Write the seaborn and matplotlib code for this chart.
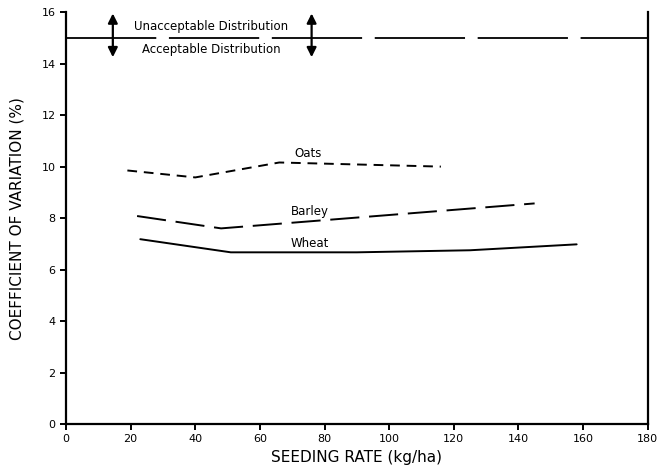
import pandas as pd
import matplotlib.pyplot as plt
import seaborn as sns

# values
oats_rate = [19, 40, 66, 116]
oats_cv = [9.85, 9.58, 10.16, 10.0]
barley_rate = [22, 48, 85, 145]
barley_cv = [8.08, 7.6, 7.97, 8.57]
wheat_rate = [23, 51, 90, 125, 158]
wheat_cv = [7.18, 6.67, 6.67, 6.75, 6.98]
threshold = 15

sns.set_style("ticks")
plt.rcParams["font.family"] = ["DejaVu Sans"]
plt.rcParams["text.color"] = "black"
plt.rcParams["axes.labelcolor"] = "black"
plt.rcParams["xtick.color"] = "black"
plt.rcParams["ytick.color"] = "black"

fig = plt.figure(figsize=(6.63, 4.68), dpi=100)
ax = fig.add_axes([0.0995, 0.094, 0.8775, 0.88])

oats = pd.DataFrame({"rate": oats_rate, "cv": oats_cv})
barley = pd.DataFrame({"rate": barley_rate, "cv": barley_cv})
wheat = pd.DataFrame({"rate": wheat_rate, "cv": wheat_cv})

sns.lineplot(data=oats, x="rate", y="cv", ax=ax, color="black", lw=1.4)
ax.lines[-1].set_dashes([5, 3.5])
sns.lineplot(data=barley, x="rate", y="cv", ax=ax, color="black", lw=1.4)
ax.lines[-1].set_dashes([15, 5])
sns.lineplot(data=wheat, x="rate", y="cv", ax=ax, color="black", lw=1.4)

# acceptability threshold
ax.axhline(threshold, color="black", lw=1.3, dashes=[50, 7])
for xa in [14.5, 76]:
    ax.annotate("", xy=(xa, 15.95), xytext=(xa, 14.25),
                arrowprops=dict(arrowstyle="<|-|>", color="black", lw=1.6,
                                mutation_scale=14, shrinkA=0, shrinkB=0))
ax.text(45, 15.45, "Unacceptable Distribution", ha="center", va="center", fontsize=8.5)
ax.text(45, 14.55, "Acceptable Distribution", ha="center", va="center", fontsize=8.5)

ax.text(75, 10.5, "Oats", ha="center", va="center", fontsize=8.5)
ax.text(75.5, 8.25, "Barley", ha="center", va="center", fontsize=8.5)
ax.text(75.5, 7.0, "Wheat", ha="center", va="center", fontsize=8.5)

ax.set_xlim(0, 180)
ax.set_ylim(0, 16)
ax.set_xticks(range(0, 181, 20))
ax.set_yticks(range(0, 17, 2))
ax.tick_params(labelsize=8, width=1.4, length=4)
ax.set_xlabel("SEEDING RATE (kg/ha)", fontsize=11)
ax.set_ylabel("COEFFICIENT OF VARIATION (%)", fontsize=11, labelpad=12)
for side in ["left", "bottom", "right"]:
    ax.spines[side].set_linewidth(1.6)
    ax.spines[side].set_color("black")
ax.spines["top"].set_visible(False)
ax.spines["right"].set_visible(True)

fig.savefig("out.png", dpi=100)
